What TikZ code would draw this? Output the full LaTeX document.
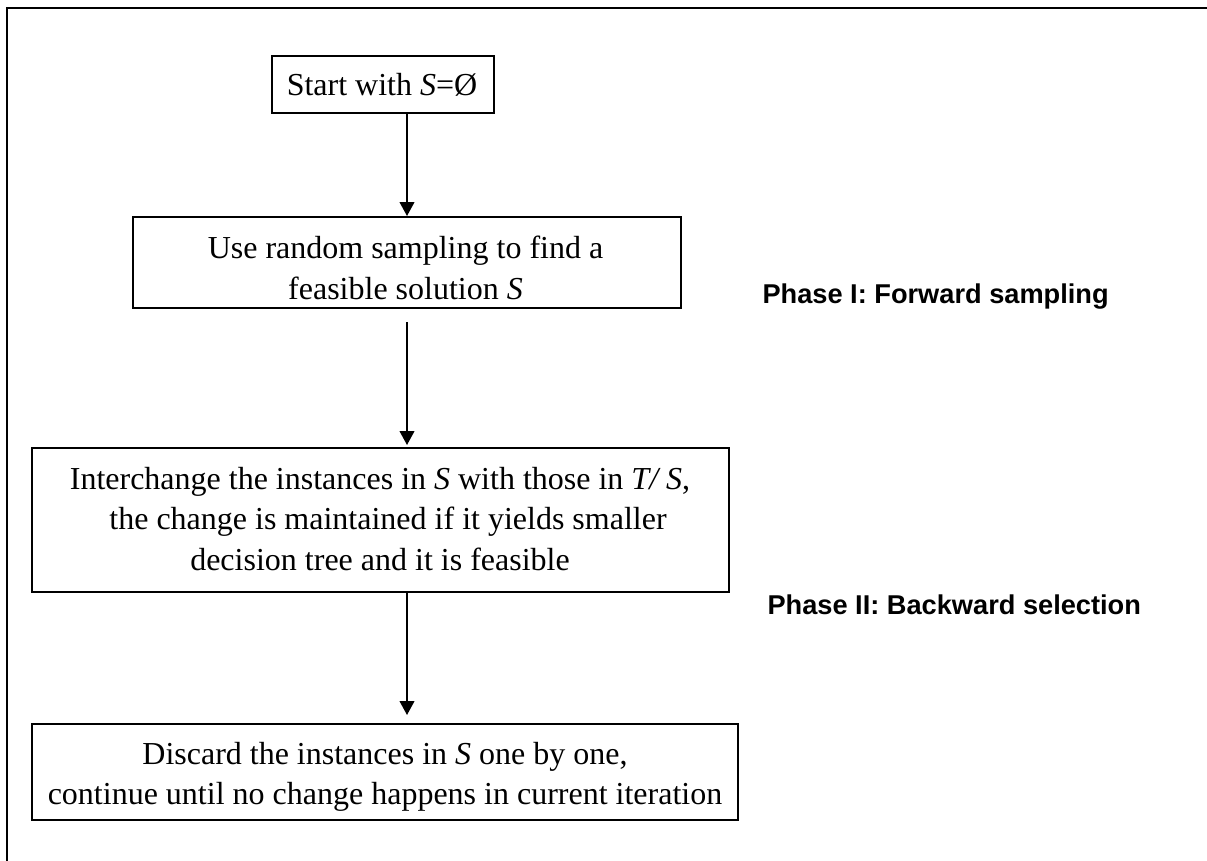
\documentclass[tikz,border=0pt]{standalone}
\usepackage{fontspec}
\setmainfont{Liberation Serif}
\setsansfont{Liberation Sans}
\usetikzlibrary{arrows.meta,calc}

\begin{document}
\begin{tikzpicture}[
  x=0.375pt, y=-0.375pt,
  stepbox/.style={draw, line width=0.75pt, inner sep=0pt, rectangle},
  txt/.style={inner sep=0pt, align=center,
    font=\fontsize{12pt}{15.2pt}\selectfont},
  phase/.style={inner sep=0pt, anchor=base west,
    font=\sffamily\bfseries\fontsize{10.2pt}{12pt}\selectfont},
  arr/.style={line width=0.75pt, -{Triangle[length=5.25pt,width=5.5pt]}},
  frame/.style={line width=1pt}
]
\useasboundingbox (0,0) rectangle (1207,860);

% open frame: left and top edges only
\draw[frame] (7,870) -- (7,8) -- (1217,8);

% flow boxes
\node[stepbox, minimum width=83.25pt,  minimum height=21.375pt] (b1) at (383,84.5) {};
\node[stepbox, minimum width=205.5pt,  minimum height=34.125pt] (b2) at (407,262.5) {};
\node[stepbox, minimum width=261.375pt, minimum height=54pt]    (b3) at (380.5,520) {};
\node[stepbox, minimum width=264.75pt, minimum height=36pt]    (b4) at (385,772) {};

% box texts
\node[txt] (t1) at (382,85) {Start with \textit{S}=Ø};
\node[txt] (t2) at (405.5,268) {Use random sampling to find a\\feasible solution \textit{S}};
\node[txt] (t3) at (380,519) {Interchange the instances in \textit{S} with those in \textit{T/ S},\\
  \hspace*{0.5em}the change is maintained if it yields smaller\\
  decision tree and it is feasible};
\node[txt] (t4) at (385,777) {Discard the instances in \textit{S} one by one,\\
  continue until no change happens in current iteration};

% phase labels
\node[phase] (p1) at (762,303) {Phase I: Forward sampling};
\node[phase] (p2) at (767,614) {Phase II: Backward selection};

% connectors
\draw[arr] (b1.south -| b2.north) -- (b2.north);
\draw[arr, shorten <=4.9pt, shorten >=0.75pt] (b2.south) -- (b3.north -| b2.south);
\draw[arr, shorten >=3pt] (b3.south -| b2.south) -- (b4.north -| b2.south);
\end{tikzpicture}
\end{document}
